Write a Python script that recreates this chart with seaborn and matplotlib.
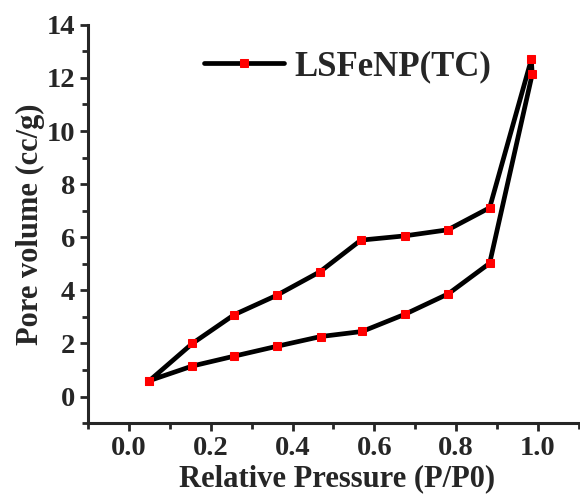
import matplotlib
matplotlib.use("Agg")
import matplotlib.pyplot as plt
import seaborn as sns
import pandas as pd
from matplotlib.ticker import MultipleLocator

# Adsorption (lower) then desorption (upper) branch, as a closed loop
ads_x = [0.05, 0.155, 0.257, 0.361, 0.469, 0.570, 0.675, 0.781, 0.882, 0.986]
ads_y = [0.60, 1.15, 1.52, 1.89, 2.26, 2.45, 3.10, 3.87, 5.02, 12.13]
des_x = [0.984, 0.882, 0.780, 0.674, 0.567, 0.467, 0.361, 0.257, 0.155, 0.05]
des_y = [12.70, 7.11, 6.28, 6.05, 5.89, 4.70, 3.81, 3.08, 2.00, 0.60]
series_name = "LSFeNP(TC)"

df = pd.DataFrame({"x": ads_x + des_x, "y": ads_y + des_y})

sns.set_style("ticks")
plt.rcParams["font.family"] = ["Liberation Serif", "DejaVu Serif"]
plt.rcParams["font.weight"] = "bold"

fig = plt.figure(figsize=(5.8, 4.96), dpi=100)
ax = fig.add_axes([0.152, 0.147, 0.86, 0.803])

sns.lineplot(data=df, x="x", y="y", sort=False, ax=ax, color="black", lw=3.4,
             marker="s", markersize=6, markerfacecolor="red", markeredgecolor="red",
             label=series_name, estimator=None)

ax.set_xlim(-0.1, 1.12)
ax.set_ylim(-1, 14)
ax.xaxis.set_major_locator(MultipleLocator(0.2))
ax.xaxis.set_minor_locator(MultipleLocator(0.1))
ax.yaxis.set_major_locator(MultipleLocator(2))
ax.yaxis.set_minor_locator(MultipleLocator(1))
ax.set_xticks([0.0, 0.2, 0.4, 0.6, 0.8, 1.0])
ax.set_xticklabels(["0.0", "0.2", "0.4", "0.6", "0.8", "1.0"])
ax.tick_params(which="major", direction="out", length=6, width=2, labelsize=20.5)
ax.tick_params(which="minor", direction="out", length=4, width=2)
for lab in ax.get_xticklabels() + ax.get_yticklabels():
    lab.set_fontweight("bold")

sns.despine(ax=ax)
for s in ["left", "bottom"]:
    ax.spines[s].set_linewidth(2.2)

ax.set_xlabel("Relative Pressure (P/P0)", fontsize=22, fontweight="bold", labelpad=2)
ax.set_ylabel("Pore volume (cc/g)", fontsize=22, fontweight="bold", labelpad=1)

leg = ax.legend(loc="center left", bbox_to_anchor=(0.17, 0.895), frameon=False,
                handlelength=2.3, handletextpad=0.3, prop={"size": 25, "weight": "bold"})

fig.savefig("out.png", dpi=100)
